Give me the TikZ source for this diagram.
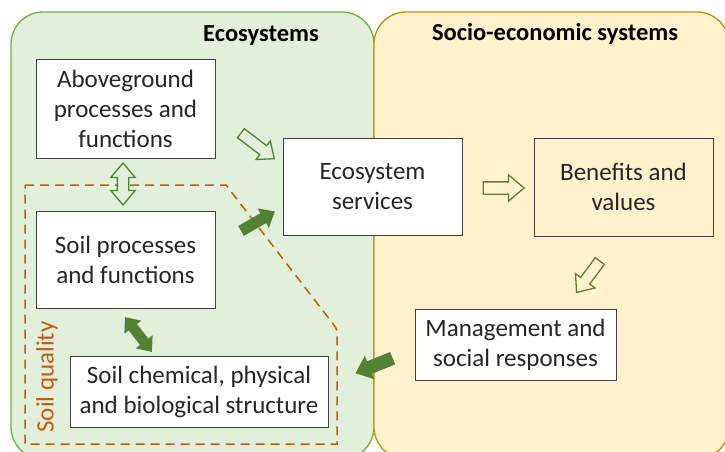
\documentclass[tikz,border=0pt]{standalone}
\usepackage{fontspec}
\setmainfont{Carlito}
\usetikzlibrary{shapes.arrows}
\definecolor{ecobg}{HTML}{E2EFDA}
\definecolor{ecoline}{HTML}{70AD47}
\definecolor{sebg}{HTML}{FFF2CC}
\definecolor{seline}{HTML}{BF9000}
\definecolor{arrgreen}{HTML}{548235}
\definecolor{soilorange}{HTML}{C55A11}
\definecolor{boxline}{HTML}{404040}
\definecolor{txt}{HTML}{262626}
\begin{document}
\begin{tikzpicture}[x=1pt,y=-1pt,
  every node/.style={font=\fontsize{25}{30}\selectfont, text=txt},
  box/.style={draw=boxline, line width=1pt, fill=white, align=center, inner sep=0pt},
  title/.style={font=\fontsize{24.5}{30}\selectfont\bfseries, text=black},
  sarr/.style n args={4}{single arrow, inner xsep=0pt, inner ysep=#2, minimum width=0pt,
    minimum height=#1, single arrow head extend=#3, single arrow tip angle=80,
    single arrow head indent=0pt, rotate=#4},
  darr/.style n args={4}{double arrow, inner xsep=0pt, inner ysep=#2, minimum width=0pt,
    minimum height=#1, double arrow head extend=#3, double arrow tip angle=80,
    double arrow head indent=0pt, rotate=#4},
  outarr/.style={draw=arrgreen, line width=1.3pt},
  fillarr/.style={fill=arrgreen, draw=none}
]
\useasboundingbox (0,0) rectangle (725,452);
% backgrounds
\draw[fill=ecobg, draw=ecoline, line width=1.3pt, rounded corners=32pt] (11,12) rectangle (374,459);
\draw[fill=sebg, draw=seline, line width=1.3pt, rounded corners=32pt] (374,12) rectangle (729,459);
\node[title] (ecot) at (261,35) {Ecosystems};
\node[title] (sect) at (555,34) {Socio-economic systems};
% soil quality
\draw[soilorange, line width=1.5pt, dash pattern=on 9pt off 6pt]
  (25,185) -- (226,185) -- (332,322.5) .. controls (337,329) .. (337,336) -- (337,444) -- (25,444) -- cycle;
\node[rotate=90, text=soilorange] (sq) at (47,377) {Soil quality};
% boxes
\node[box, minimum width=179pt, minimum height=98pt] (above) at (125.5,109) {Aboveground\\processes and\\functions};
\node[box, minimum width=179pt, minimum height=97pt] (soilp) at (125.5,259.5) {Soil processes\\and functions};
\node[box, minimum width=258pt, minimum height=71pt] (chem) at (199,391.5) {Soil chemical, physical\\and biological structure};
\node[box, minimum width=179pt, minimum height=97pt] (es) at (372.5,186.5) {Ecosystem\\services};
\node[box, fill=sebg, minimum width=179pt, minimum height=98pt] (ben) at (623.5,187) {Benefits and\\values};
\node[box, minimum width=201pt, minimum height=71pt] (mgmt) at (515.5,344.5) {Management and\\social responses};
% arrows
\node[sarr={42pt}{5pt}{6pt}{-37.3}, outarr, fill=ecobg] (a1) at (254.9,143.9) {};
\node[sarr={39pt}{5.5pt}{5.5pt}{29.9}, fillarr] (a3) at (255,222.9) {};
\node[darr={42pt}{5pt}{6.5pt}{90}, outarr, fill=ecobg] (a2) at (123,184) {};
\node[darr={44pt}{5pt}{5.5pt}{-52.4}, fillarr] (a4) at (138.5,334.5) {};
\node[sarr={41pt}{5.5pt}{7pt}{0}, outarr, fill=sebg] (a5) at (500,188) {};
\node[sarr={39pt}{5pt}{6.5pt}{-126.5}, outarr, fill=sebg] (a6) at (590.2,274) {};
\node[sarr={40pt}{6.5pt}{6pt}{-157.9}, fillarr] (a7) at (377.8,364.2) {};
\end{tikzpicture}
\end{document}
